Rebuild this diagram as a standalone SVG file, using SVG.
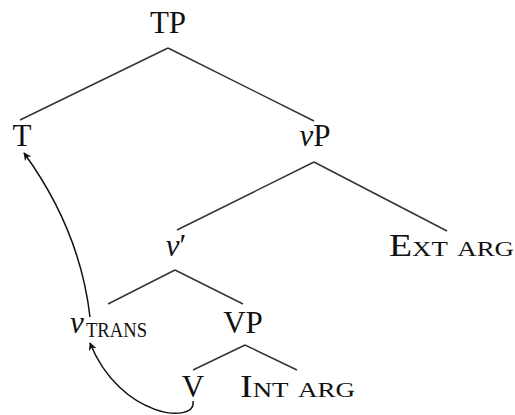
<svg xmlns="http://www.w3.org/2000/svg" width="515" height="415" viewBox="0 0 515 415">
<style>
text{font-family:"Liberation Serif","Times New Roman",serif;font-size:31px;fill:#111}
.it{font-style:italic}
.sc{font-variant:small-caps}
.ln{stroke:#333;stroke-width:1.5;fill:none}
.arr{stroke:#111;stroke-width:1.5;fill:none;marker-end:url(#ah)}
</style>
<defs>
<marker id="ah" viewBox="0 0 10 10" refX="9" refY="5" markerWidth="8" markerHeight="8" markerUnits="userSpaceOnUse" orient="auto">
<path d="M0,0 L10,5 L0,10 L3,5 Z" fill="#111"/>
</marker>
</defs>
<g id="connectors">
<line class="ln" x1="168" y1="48" x2="20" y2="120"/>
<line class="ln" x1="168" y1="48" x2="314" y2="121"/>
<line class="ln" x1="314" y1="162" x2="177" y2="230"/>
<line class="ln" x1="314" y1="162" x2="447" y2="231"/>
<line class="ln" x1="175" y1="270" x2="108" y2="304"/>
<line class="ln" x1="175" y1="270" x2="243" y2="304"/>
<line class="ln" x1="245" y1="345" x2="193" y2="370"/>
<line class="ln" x1="245" y1="345" x2="297" y2="370"/>
<path class="arr" d="M90,317 Q80,230 24,153"/>
<path class="arr" d="M193,401 C197,425 120,418 90,343"/>
</g>
<g id="TP"><text x="168" y="33" text-anchor="middle">TP</text></g>
<g id="T"><text x="22" y="146" text-anchor="middle">T</text></g>
<g id="vP"><text x="315" y="146" text-anchor="middle"><tspan class="it">v</tspan>P</text></g>
<g id="vbar"><text x="176" y="256" text-anchor="middle"><tspan class="it">v</tspan>′</text></g>
<g id="ExtArg"><text x="389" y="256" class="sc" textLength="125" lengthAdjust="spacingAndGlyphs">Ext arg</text></g>
<g id="vtrans"><text x="70" y="333"><tspan class="it">v</tspan></text><text x="86" y="337" class="sc" font-size="23" textLength="61" lengthAdjust="spacingAndGlyphs">trans</text></g>
<g id="VP"><text x="243" y="333" text-anchor="middle">VP</text></g>
<g id="V"><text x="193" y="397" text-anchor="middle">V</text></g>
<g id="IntArg"><text x="240" y="397" class="sc" textLength="115" lengthAdjust="spacingAndGlyphs">Int arg</text></g>
</svg>
